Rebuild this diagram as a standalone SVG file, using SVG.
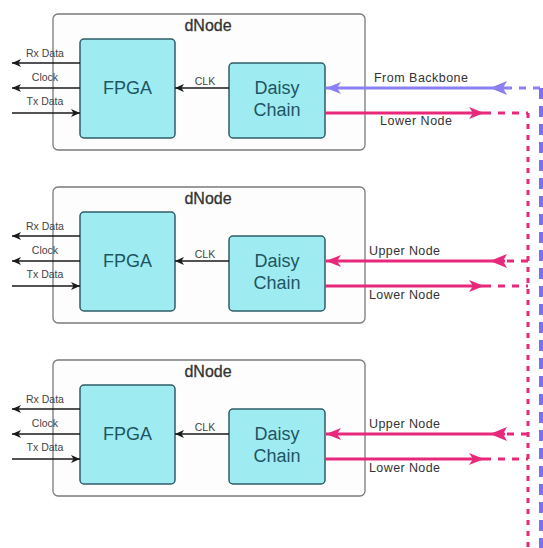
<svg xmlns="http://www.w3.org/2000/svg" width="543" height="548" viewBox="0 0 543 548">
<style>
.outer{fill:#fdfdfd;stroke:#7a7a7a;stroke-width:1.3}
.blk{fill:#9eecf2;stroke:#2e5c68;stroke-width:1.5}
.title{font-family:"Liberation Sans",Arial,sans-serif;font-size:16px;fill:#333;text-anchor:middle;stroke:#333;stroke-width:0.3}
.big{font-family:"Liberation Sans",Arial,sans-serif;font-size:18px;fill:#1f5561;text-anchor:middle}
.sm{font-family:"Liberation Sans",Arial,sans-serif;font-size:10.5px;fill:#444;text-anchor:middle}
.lbl{font-family:"Liberation Sans",Arial,sans-serif;font-size:12.5px;fill:#333}
.blk-line{stroke:#1a1a1a;stroke-width:1.6;fill:none}
.pk{stroke:#e8297b;stroke-width:3;fill:none}
.pkd{stroke:#e8297b;stroke-width:3;fill:none;stroke-dasharray:7 7}
.bl{stroke:#8a80f2;stroke-width:3;fill:none}
.bld{stroke:#8a80f2;stroke-width:3;fill:none;stroke-dasharray:7 7}
</style>
<defs>
<marker id="ah" markerUnits="userSpaceOnUse" markerWidth="10" markerHeight="8" refX="9" refY="4" orient="auto"><path d="M0,0 L9,4 L0,8 L2.5,4 Z" fill="#1a1a1a"/></marker>
<marker id="ahp" markerUnits="userSpaceOnUse" markerWidth="16" markerHeight="12" refX="15" refY="6" orient="auto"><path d="M0,0 L15,6 L0,12 L4,6 Z" fill="#e8297b"/></marker>
<marker id="ahb" markerUnits="userSpaceOnUse" markerWidth="16" markerHeight="12" refX="15" refY="6" orient="auto"><path d="M0,0 L15,6 L0,12 L4,6 Z" fill="#8a80f2"/></marker>
</defs>

<g id="node1">
<rect class="outer" x="53" y="14" width="312" height="136" rx="5"/>
<text class="title" x="208" y="31">dNode</text>
</g>
<g id="fpga1"><rect class="blk" x="80" y="39" width="95" height="99" rx="4"/><text class="big" x="127.5" y="94">FPGA</text></g>
<g id="daisy1"><rect class="blk" x="229" y="63" width="96" height="75" rx="4"/><text class="big" x="277" y="94">Daisy</text><text class="big" x="277" y="116">Chain</text></g>

<g id="node2">
<rect class="outer" x="53" y="187" width="312" height="136" rx="5"/>
<text class="title" x="208" y="204">dNode</text>
</g>
<g id="fpga2"><rect class="blk" x="80" y="212" width="95" height="99" rx="4"/><text class="big" x="127.5" y="267">FPGA</text></g>
<g id="daisy2"><rect class="blk" x="229" y="236" width="96" height="75" rx="4"/><text class="big" x="277" y="267">Daisy</text><text class="big" x="277" y="289">Chain</text></g>

<g id="node3">
<rect class="outer" x="53" y="360" width="312" height="136" rx="5"/>
<text class="title" x="208" y="377">dNode</text>
</g>
<g id="fpga3"><rect class="blk" x="80" y="385" width="95" height="99" rx="4"/><text class="big" x="127.5" y="440">FPGA</text></g>
<g id="daisy3"><rect class="blk" x="229" y="409" width="96" height="75" rx="4"/><text class="big" x="277" y="440">Daisy</text><text class="big" x="277" y="462">Chain</text></g>

<g id="connectors">
<!-- block 1 -->
<line class="blk-line" x1="80" y1="63" x2="12" y2="63" marker-end="url(#ah)"/>
<line class="blk-line" x1="80" y1="88" x2="12" y2="88" marker-end="url(#ah)"/>
<line class="blk-line" x1="12" y1="113" x2="80" y2="113" marker-end="url(#ah)"/>
<line class="blk-line" x1="229" y1="88" x2="175" y2="88" marker-end="url(#ah)"/>
<text class="sm" x="45" y="57">Rx Data</text>
<text class="sm" x="45" y="81">Clock</text>
<text class="sm" x="45" y="105">Tx Data</text>
<text class="sm" x="205" y="85">CLK</text>

<line class="bld" x1="540" y1="88" x2="505" y2="88"/>
<line class="bl" x1="505" y1="88" x2="326" y2="88" marker-end="url(#ahb)"/>
<path d="M490,88 L507,81 L503,88 L507,95 Z" fill="#8a80f2"/>
<text class="lbl" x="374" y="82" textLength="94">From Backbone</text>
<line class="pk" x1="325" y1="113" x2="484" y2="113" marker-end="url(#ahp)"/>
<line class="pkd" x1="484" y1="113" x2="528" y2="113"/>
<text class="lbl" x="380" y="125" textLength="72">Lower Node</text>

<!-- block 2 -->
<line class="blk-line" x1="80" y1="236" x2="12" y2="236" marker-end="url(#ah)"/>
<line class="blk-line" x1="80" y1="261" x2="12" y2="261" marker-end="url(#ah)"/>
<line class="blk-line" x1="12" y1="286" x2="80" y2="286" marker-end="url(#ah)"/>
<line class="blk-line" x1="229" y1="261" x2="175" y2="261" marker-end="url(#ah)"/>
<text class="sm" x="45" y="230">Rx Data</text>
<text class="sm" x="45" y="254">Clock</text>
<text class="sm" x="45" y="278">Tx Data</text>
<text class="sm" x="205" y="258">CLK</text>

<line class="pkd" x1="528" y1="261" x2="507" y2="261"/>
<line class="pk" x1="505" y1="261" x2="326" y2="261" marker-end="url(#ahp)"/>
<path d="M490,261 L507,254 L503,261 L507,268 Z" fill="#e8297b"/>
<text class="lbl" x="369" y="255" textLength="71">Upper Node</text>
<line class="pk" x1="325" y1="286" x2="484" y2="286" marker-end="url(#ahp)"/>
<line class="pkd" x1="484" y1="286" x2="528" y2="286"/>
<text class="lbl" x="369" y="299" textLength="71">Lower Node</text>

<!-- block 3 -->
<line class="blk-line" x1="80" y1="409" x2="12" y2="409" marker-end="url(#ah)"/>
<line class="blk-line" x1="80" y1="434" x2="12" y2="434" marker-end="url(#ah)"/>
<line class="blk-line" x1="12" y1="459" x2="80" y2="459" marker-end="url(#ah)"/>
<line class="blk-line" x1="229" y1="434" x2="175" y2="434" marker-end="url(#ah)"/>
<text class="sm" x="45" y="403">Rx Data</text>
<text class="sm" x="45" y="427">Clock</text>
<text class="sm" x="45" y="451">Tx Data</text>
<text class="sm" x="205" y="431">CLK</text>

<line class="pkd" x1="528" y1="434" x2="507" y2="434"/>
<line class="pk" x1="505" y1="434" x2="326" y2="434" marker-end="url(#ahp)"/>
<path d="M490,434 L507,427 L503,434 L507,441 Z" fill="#e8297b"/>
<text class="lbl" x="369" y="428" textLength="71">Upper Node</text>
<line class="pk" x1="325" y1="459" x2="484" y2="459" marker-end="url(#ahp)"/>
<line class="pkd" x1="484" y1="459" x2="528" y2="459"/>
<text class="lbl" x="369" y="472" textLength="71">Lower Node</text>

<!-- verticals -->
<line x1="528" y1="113" x2="528" y2="548" stroke="#e8297b" stroke-width="3" stroke-dasharray="5 6"/>
<line x1="541" y1="88" x2="541" y2="548" stroke="#7d70f0" stroke-width="4" stroke-dasharray="11 7"/>
</g>
</svg>
